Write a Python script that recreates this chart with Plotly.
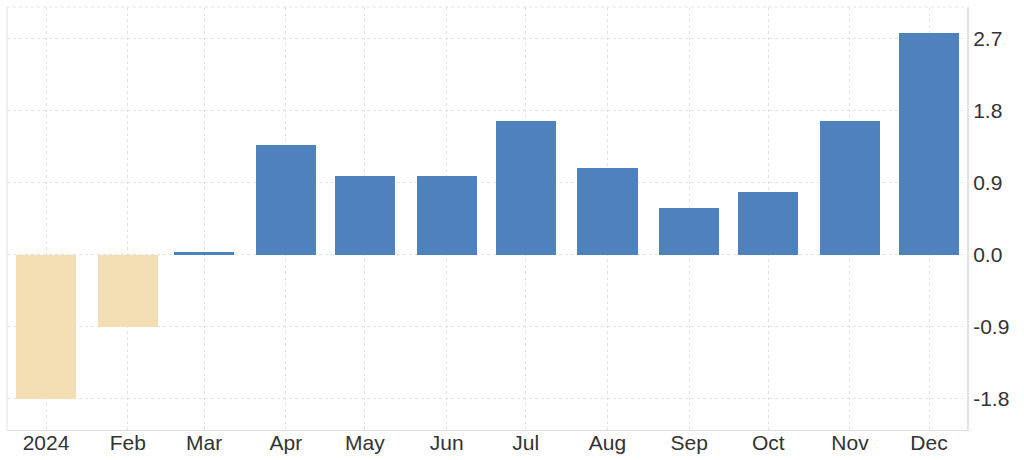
import plotly.graph_objects as go
import pandas as pd

months = ["2024-01-01", "2024-02-01", "2024-03-01", "2024-04-01", "2024-05-01", "2024-06-01",
          "2024-07-01", "2024-08-01", "2024-09-01", "2024-10-01", "2024-11-01", "2024-12-01"]
values = [-1.8, -0.9, 0.04, 1.37, 0.98, 0.98, 1.67, 1.08, 0.58, 0.78, 1.67, 2.77]
tick_labels = ["2024", "Feb", "Mar", "Apr", "May", "Jun", "Jul", "Aug", "Sep", "Oct", "Nov", "Dec"]
y_ticks = [-1.8, -0.9, 0.0, 0.9, 1.8, 2.7]

POS = "#4f81bd"
NEG = "#f4deb3"
colors = [POS if v >= 0 else NEG for v in values]

day_ms = 86400000
fig = go.Figure(go.Bar(
    x=months, y=values, marker=dict(color=colors, line=dict(width=0)),
    width=[22.8 * day_ms] * len(values), hoverinfo="x+y",
))

x0 = pd.Timestamp("2024-01-01") - pd.Timedelta(days=14.8)
x1 = pd.Timestamp("2024-12-01") + pd.Timedelta(days=14.4)

font = dict(family="Liberation Sans, Arial, sans-serif", size=21, color="#333333")
fig.update_layout(
    width=1024, height=460,
    margin=dict(l=7, r=57, t=7, b=30, autoexpand=False),
    paper_bgcolor="white", plot_bgcolor="white",
    showlegend=False, font=font, bargap=0,
    xaxis=dict(type="date", range=[x0, x1], tickvals=months, ticktext=tick_labels,
               showgrid=True, gridcolor="#e3e3e3", griddash="dot", gridwidth=1,
               showline=True, linecolor="#dcdcdc", linewidth=1,
               ticks="", automargin=False, ticklabelstandoff=-6,
               tickfont=font, zeroline=False, fixedrange=True),
    yaxis=dict(side="right", range=[-2.19, 3.0975], tickvals=y_ticks,
               ticktext=[f"{v:.1f}" for v in y_ticks],
               showgrid=True, gridcolor="#e3e3e3", griddash="dot", gridwidth=1,
               showline=True, linecolor="#e3e3e3", linewidth=2,
               ticks="", automargin=False, ticklabelstandoff=0,
               tickfont=font, zeroline=False, fixedrange=True),
    shapes=[
        dict(type="line", xref="paper", yref="paper", x0=0, x1=1, y0=1, y1=1,
             line=dict(color="#e3e3e3", width=1, dash="dot")),
        dict(type="line", xref="paper", yref="paper", x0=0, x1=0, y0=0, y1=1,
             line=dict(color="#e3e3e3", width=1)),
    ],
)

fig.write_html("out.html", config={"displayModeBar": False},
               post_script="document.body.style.margin='0';document.body.style.overflow='hidden';")
